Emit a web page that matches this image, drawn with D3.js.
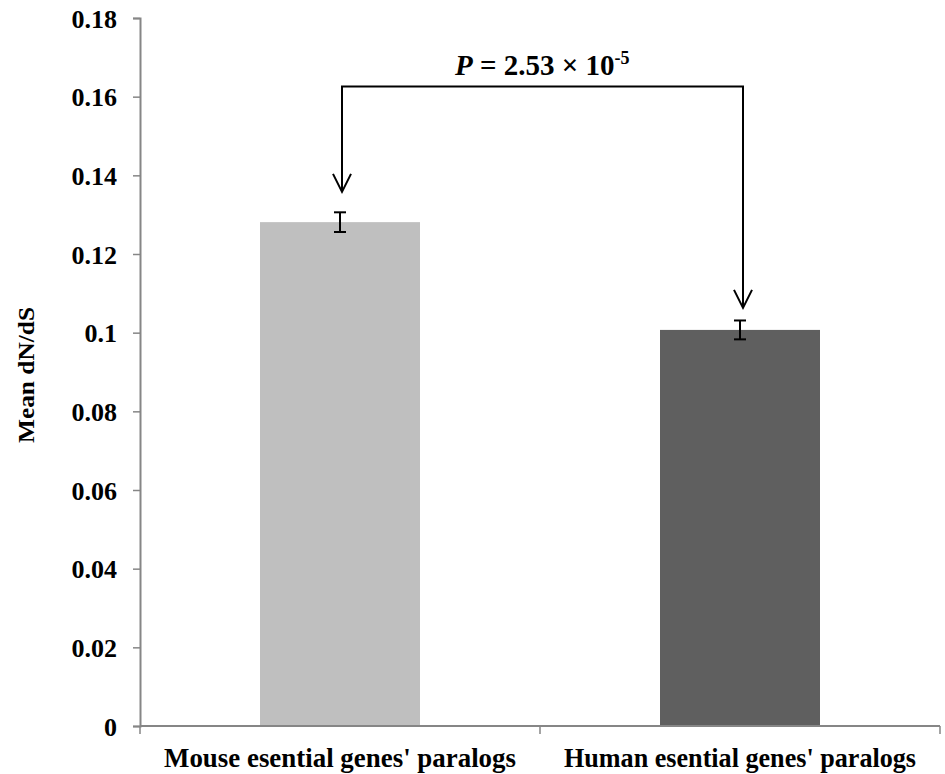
<!DOCTYPE html>
<meta charset="utf-8" />
<style>
    body { margin: 0; background: #fff; }
    text { font-family: "Liberation Serif", "Times New Roman", serif; font-weight: bold; fill: #000; }
</style>
<svg width="945" height="774"></svg>
<script src="https://d3js.org/d3.v7.min.js"></script>
<script>
    // data
    var categories = ["Mouse esential genes' paralogs", "Human esential genes' paralogs"];
    var means = [0.1281, 0.1007];
    var errors = [0.0025, 0.0024];
    var barColors = ["#bfbfbf", "#5f5f5f"];
    var yTicks = [0, 0.02, 0.04, 0.06, 0.08, 0.1, 0.12, 0.14, 0.16, 0.18];
    var tickLabels = ["0", "0.02", "0.04", "0.06", "0.08", "0.1", "0.12", "0.14", "0.16", "0.18"];
    var bracketLevel = 0.1626;   // height of the comparison bracket
    var arrowTips = [0.1358, 0.1063];

    var svg = d3.select("svg");

    var x = d3.scaleBand()
        .domain(categories)
        .range([140, 940])
        .paddingInner(0.6)
        .paddingOuter(0.3);

    var y = d3.scaleLinear()
        .domain([0, 0.18])
        .range([726, 18]);

    // y axis
    var yAxis = svg.append("g")
        .attr("transform", "translate(140,0)")
        .call(d3.axisLeft(y).tickValues(yTicks).tickSize(7).tickPadding(16)
            .tickFormat(function (d, i) { return tickLabels[i]; }));
    yAxis.select(".domain").attr("stroke", "#868686").attr("stroke-width", 2);
    yAxis.selectAll(".tick line").attr("stroke", "#868686").attr("stroke-width", 1.5);
    yAxis.selectAll(".tick text")
        .style("font-family", "Liberation Serif")
        .style("font-weight", "bold")
        .style("font-size", "26px")
        .attr("dy", "0.35em")
        .attr("fill", "#000");

    // bars
    svg.append("g")
        .selectAll("rect")
        .data(categories)
        .enter()
        .append("rect")
        .attr("x", function (d) { return x(d); })
        .attr("y", function (d, i) { return y(means[i]); })
        .attr("width", x.bandwidth())
        .attr("height", function (d, i) { return y(0) - y(means[i]); })
        .attr("fill", function (d, i) { return barColors[i]; });

    // x axis (drawn over bars)
    var xAxis = svg.append("g")
        .attr("transform", "translate(0,726)");
    xAxis.append("line")
        .attr("x1", 140).attr("x2", 940)
        .attr("stroke", "#868686").attr("stroke-width", 2);
    var xBounds = [140, 140 + x.step(), 140 + 2 * x.step()];
    xAxis.selectAll(".xt")
        .data(xBounds)
        .enter()
        .append("line")
        .attr("x1", function (d) { return d; })
        .attr("x2", function (d) { return d; })
        .attr("y1", 0).attr("y2", 8)
        .attr("stroke", "#868686").attr("stroke-width", 1.5);

    svg.append("g")
        .selectAll("text")
        .data(categories)
        .enter()
        .append("text")
        .attr("x", function (d) { return x(d) + x.bandwidth() / 2; })
        .attr("y", 767)
        .attr("text-anchor", "middle")
        .style("font-size", "27px")
        .attr("textLength", 352)
        .attr("lengthAdjust", "spacingAndGlyphs")
        .text(function (d) { return d; });

    // error bars
    var err = svg.append("g").attr("stroke", "#000").attr("stroke-width", 2);
    categories.forEach(function (c, i) {
        var cx = x(c) + x.bandwidth() / 2;
        var top = y(means[i] + errors[i]);
        var bot = y(means[i] - errors[i]);
        err.append("line").attr("x1", cx).attr("x2", cx).attr("y1", top).attr("y2", bot);
        err.append("line").attr("x1", cx - 6).attr("x2", cx + 6).attr("y1", top).attr("y2", top);
        err.append("line").attr("x1", cx - 6).attr("x2", cx + 6).attr("y1", bot).attr("y2", bot);
    });

    // y axis title
    svg.append("text")
        .attr("transform", "translate(34,375) rotate(-90)")
        .attr("text-anchor", "middle")
        .style("font-size", "24px")
        .attr("textLength", 136)
        .attr("lengthAdjust", "spacingAndGlyphs")
        .text("Mean dN/dS");

    // comparison bracket with arrows
    var bx = [342, 743];
    var by = y(bracketLevel);
    var br = svg.append("g").attr("stroke", "#000").attr("stroke-width", 2).attr("fill", "none");
    br.append("path")
        .attr("d", "M" + bx[0] + "," + y(arrowTips[0]) + "V" + by + "H" + bx[1] + "V" + y(arrowTips[1]));
    bx.forEach(function (xx, i) {
        var tip = y(arrowTips[i]);
        br.append("path")
            .attr("d", "M" + (xx - 9) + "," + (tip - 18) + "L" + xx + "," + tip + "L" + (xx + 9) + "," + (tip - 18));
    });

    var pText = svg.append("text")
        .attr("x", 455)
        .attr("y", 75)
        .style("font-size", "29px");
    pText.append("tspan").style("font-style", "italic").text("P");
    pText.append("tspan").text(" = 2.53 \u00d7 10");
    pText.append("tspan").attr("dy", -11).style("font-size", "18px").text("-5");
</script>
